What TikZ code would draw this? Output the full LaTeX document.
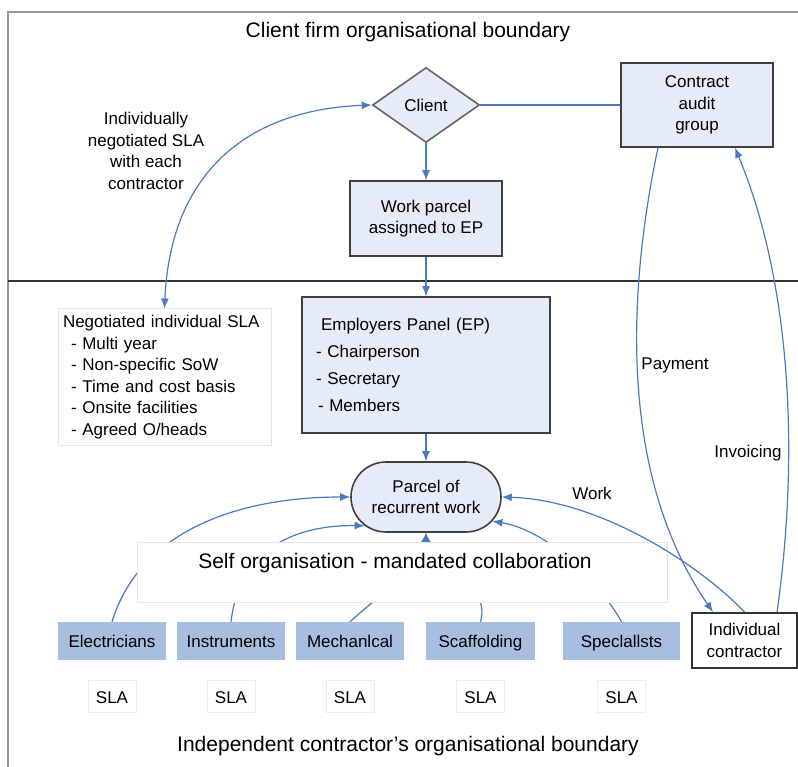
\documentclass[tikz,border=0pt]{standalone}
\usepackage{fontspec}
\setmainfont{Liberation Sans}
\usetikzlibrary{shapes.geometric,shapes.misc,arrows.meta,positioning}
\definecolor{flowblue}{RGB}{74,122,192}
\definecolor{lightbox}{RGB}{229,235,247}
\definecolor{tradeblue}{RGB}{168,190,225}
\definecolor{framegray}{RGB}{150,150,150}
\newcommand{\nodefont}{\fontsize{17}{21.5}\selectfont}
\newcommand{\titlefont}{\fontsize{21}{25}\selectfont}
\tikzset{
  box/.style={draw=black!75,line width=1.6pt,fill=lightbox,align=center,inner sep=0pt},
  trade/.style={fill=tradeblue,minimum height=38pt,inner sep=0pt,text height=13pt,text depth=1pt},
  slabox/.style={draw=black!8,line width=1pt,fill=white,minimum width=48pt,minimum height=32pt,inner sep=0pt,text height=14pt,text depth=0.6pt},
  flow/.style={draw=flowblue,line width=1.2pt,-{Latex[length=10pt,width=8pt]}},
}
\begin{document}
\begin{tikzpicture}[x=1pt,y=-1pt,every node/.append style={font=\nodefont}]
                \useasboundingbox (0,0) rectangle (798,767);
                \draw[framegray,line width=2.5pt] (8,767) -- (8,12) -- (798,12);
                \draw[black!80,line width=1.8pt] (8,281) -- (798,281);
                \node[font=\titlefont] (clienttitle) at (408,32) {Client firm organisational boundary};
                \node[font=\titlefont] (contractortitle) at (408,746) {Independent contractor's organisational boundary};
                \node[box,diamond,draw=black!60,minimum width=107pt,minimum height=75pt] (client) at (426,105) {Client};
                \node[box,minimum width=152pt,minimum height=84pt] (audit) at (697,105) {Contract\\audit\\group};
                \node[box,minimum width=152pt,minimum height=75pt] (workparcel) at (426,218.5) {Work parcel\\assigned to EP};
                \node[box,align=left,text width=220pt,inner xsep=14pt,minimum height=136pt] (ep) at (426,365) {\hspace*{5pt}Employers Panel (EP)\\[5.5pt]- Chairperson\\[5.5pt]- Secretary\\[5.5pt]\hspace*{2pt}- Members};
                \node[draw=black!10,line width=1pt,fill=white,align=left,text width=203pt,inner xsep=5pt,minimum height=136pt] (slaterms) at (164.5,377) {Negotiated individual SLA\\\hspace*{8pt}- Multi year\\\hspace*{8pt}- Non-specific SoW\\\hspace*{8pt}- Time and cost basis\\\hspace*{8pt}- Onsite facilities\\\hspace*{8pt}- Agreed O/heads};
                \node[align=center] (slalabel) at (146,151) {Individually\\negotiated SLA\\with each\\contractor};
                \node[box,rounded rectangle,minimum width=150pt,minimum height=70pt] (parcel) at (426,497) {Parcel of\\recurrent work};
                \draw[flowblue,line width=1.2pt] (client.east) -- (audit.west);
                \draw[flow] (client.south) -- (workparcel.north);
                \draw[flow] (workparcel.south) -- (ep.north);
                \draw[flow] (ep.south) -- (parcel.north);
                \draw[flow,{Latex[length=10pt,width=8pt]}-{Latex[length=10pt,width=8pt]}] (slaterms.north) .. controls (170,180) and (240,110) .. (client.west);
                \node[trade,minimum width=108pt] (electricians) at (112,641) {Electricians};
                \node[trade,minimum width=108pt] (instruments) at (231,641) {Instruments};
                \node[trade,minimum width=108pt] (mechanical) at (350,641) {Mechanlcal};
                \node[trade,minimum width=109pt] (scaffolding) at (480.5,641) {Scaffolding};
                \node[trade,minimum width=117pt] (specialists) at (621.5,641) {Speclallsts};
                \foreach \trade in {electricians,instruments,mechanical,scaffolding,specialists}
                    \node[slabox,below=20pt of \trade] (sla-\trade) {SLA};
                \draw[flow] (electricians.north) .. controls (140,530) and (240,497) .. (parcel.west);
                \draw[flow] (instruments.north) .. controls (240,545) and (300,525) .. (parcel.205);
                \draw[flow] (mechanical.north) .. controls (390,585) and (422,570) .. (parcel.south);
                \draw[flow] (scaffolding.north) .. controls (492,580) and (430,575) .. (parcel.south);
                \draw[flow] (specialists.north) .. controls (595,575) and (545,530) .. (parcel.340);
                \node[draw=black!10,line width=1pt,fill=white,minimum width=530pt,minimum height=60pt,label={[font=\titlefont,anchor=north,xshift=-7pt,yshift=-8pt]north:Self organisation - mandated collaboration}] (selforg) at (402,572) {};
                \node[draw=black!80,line width=1.8pt,fill=white,align=center,minimum width=105pt,minimum height=55pt] (contractor) at (744.5,640.5) {Individual\\contractor};
                \draw[flow] (contractor.north) .. controls (700,565) and (600,500) .. (parcel.east);
                \draw[flow] ([xshift=-39pt]audit.south) .. controls (630,280) and (615,470) .. ([xshift=-31.5pt]contractor.north);
                \draw[flow] ([xshift=32.5pt]contractor.north) .. controls (800,450) and (790,280) .. ([xshift=38pt]audit.south);
                \node (worklabel) at (592,493) {Work};
                \node (paymentlabel) at (675,365) {Payment};
                \node (invoicelabel) at (748,453) {Invoicing};
            \end{tikzpicture}
\end{document}
